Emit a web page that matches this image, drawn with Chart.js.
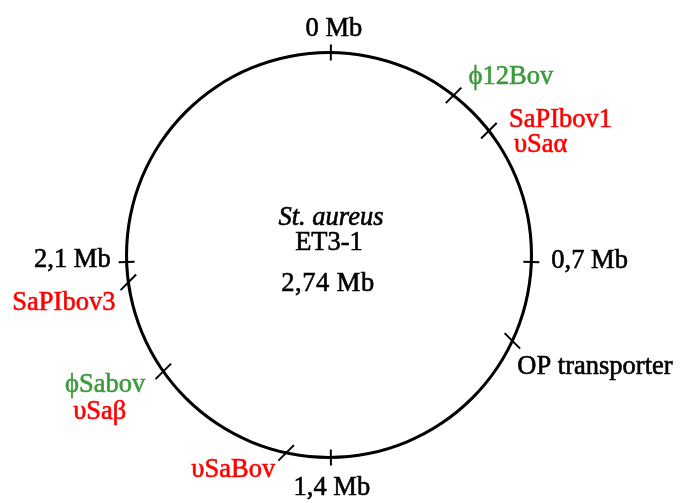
<!DOCTYPE html>
<html>
<head>
<meta charset="utf-8">
<script src="https://cdn.jsdelivr.net/npm/chart.js@4.4.0/dist/chart.umd.min.js"></script>
<style>
    html, body { margin: 0; padding: 0; background: #ffffff; }
    #wrap { width: 682px; height: 503px; }
</style>
</head>
<body>
<div id="wrap"><canvas id="genomeChart"></canvas></div>
<script>
// Genome data (positions in Mb, clockwise from the top)
const organism = 'St. aureus';
const strain = 'ET3-1';
const genomeSize = 2.74;

// Scale marks round the circle
const scalePositions = [0.004, 0.70, 1.366, 2.04];
const scaleLabels = ['0 Mb', '0,7 Mb', '1,4 Mb', '2,1 Mb'];

// Mobile elements and other features
const featurePositions = [0.289, 0.397, 0.876, 1.463, 1.788, 1.996];
const featureLabels = [
    ['\u03D512Bov'],
    ['SaPIbov1', '\u03C5Sa\u03B1'],
    ['OP transporter'],
    ['\u03C5SaBov'],
    ['\u03D5Sabov', '\u03C5Sa\u03B2'],
    ['SaPIbov3']
];
const featureColors = [
    ['#3c9a3c'],
    ['#ff0000', '#ff0000'],
    ['#000000'],
    ['#ff0000'],
    ['#3c9a3c', '#ff0000'],
    ['#ff0000']
];

// Label placement relative to each mark: [dx, dy, align]
const scaleLabelOffsets = [[3, -17, 'center'], [20, 6, 'left'], [1, 38, 'center'], [-16, 5, 'right']];
const featureLabelOffsets = [
    [[15, -11, 'left']],
    [[20, -4, 'left'], [25, 21, 'left']],
    [[5, 33, 'left']],
    [[-11, 24, 'right']],
    [[-18, 21, 'right'], [-37, 48, 'right']],
    [[-13, 28, 'right']]
];

const FONT = '26.5px "Liberation Serif", "Times New Roman", serif';

// Converts a genome position to a point on the drawn ring
function ringPoint(arc, pos) {
    const angle = -Math.PI / 2 + (pos / genomeSize) * Math.PI * 2;
    const r = (arc.innerRadius + arc.outerRadius) / 2;
    return { x: arc.x + r * Math.cos(angle), y: arc.y + r * Math.sin(angle), angle: angle };
}

// Filled text with a hairline stroke so it looks as heavy as the reference
function drawLabel(ctx, text, x, y, align, color) {
    ctx.fillStyle = color;
    ctx.strokeStyle = color;
    ctx.lineWidth = 0.6;
    ctx.textAlign = align;
    ctx.textBaseline = 'alphabetic';
    ctx.fillText(text, x, y);
    ctx.strokeText(text, x, y);
}

// Plugin drawing the marks and texts over the ring
const genomeMarks = {
    id: 'genomeMarks',
    afterDatasetsDraw(chart) {
        const ctx = chart.ctx;
        const arc = chart.getDatasetMeta(0).data[0];
        ctx.save();
        ctx.font = FONT;

        // Scale marks: short radial ticks
        scalePositions.forEach((pos, i) => {
            const p = ringPoint(arc, pos);
            const ux = Math.cos(p.angle), uy = Math.sin(p.angle);
            ctx.strokeStyle = '#000000';
            ctx.lineWidth = 2;
            ctx.beginPath();
            ctx.moveTo(p.x - ux * 8, p.y - uy * 8);
            ctx.lineTo(p.x + ux * 8, p.y + uy * 8);
            ctx.stroke();
            const off = scaleLabelOffsets[i];
            drawLabel(ctx, scaleLabels[i], p.x + off[0], p.y + off[1], off[2], '#000000');
        });

        // Feature marks: diagonal slashes crossing the ring
        featurePositions.forEach((pos, i) => {
            const p = ringPoint(arc, pos);
            const ux = Math.cos(p.angle), uy = Math.sin(p.angle);
            // pick the diagonal closest to the radial direction
            const sx = Math.sign(ux) || 1, sy = Math.sign(uy) || 1;
            const dx = sx * Math.SQRT1_2, dy = sy * Math.SQRT1_2;
            ctx.strokeStyle = '#000000';
            ctx.lineWidth = 2;
            ctx.beginPath();
            ctx.moveTo(p.x - dx * 11, p.y - dy * 11);
            ctx.lineTo(p.x + dx * 11, p.y + dy * 11);
            ctx.stroke();
            featureLabels[i].forEach((line, j) => {
                const off = featureLabelOffsets[i][j];
                drawLabel(ctx, line, p.x + off[0], p.y + off[1], off[2], featureColors[i][j]);
            });
        });

        // Centre text
        ctx.font = 'italic ' + FONT;
        drawLabel(ctx, organism, arc.x + 2, arc.y - 30, 'center', '#000000');
        ctx.font = FONT;
        drawLabel(ctx, strain, arc.x, arc.y - 5, 'center', '#000000');
        ctx.letterSpacing = '0.5px';
        drawLabel(ctx, String(genomeSize).replace('.', ',') + ' Mb', arc.x - 1, arc.y + 36, 'center', '#000000');
        ctx.restore();
    }
};

new Chart(document.getElementById('genomeChart').getContext('2d'), {
    type: 'doughnut',
    data: {
        labels: ['genome'],
        datasets: [{
            data: [genomeSize],
            backgroundColor: '#000000',
            borderWidth: 0,
            hoverOffset: 0
        }]
    },
    options: {
        responsive: true,
        maintainAspectRatio: false,
        animation: false,
        events: [],
        cutout: '98.5%',
        layout: { padding: { top: 51, bottom: 44, left: 120, right: 144 } },
        plugins: {
            legend: { display: false },
            tooltip: { enabled: false }
        }
    },
    plugins: [genomeMarks]
});
</script>
</body>
</html>
